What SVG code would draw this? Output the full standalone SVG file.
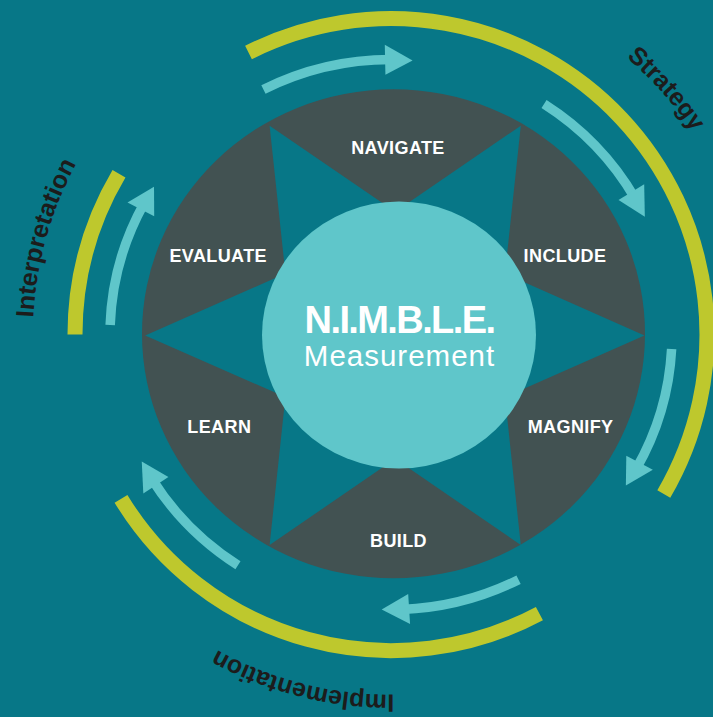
<svg xmlns="http://www.w3.org/2000/svg" width="713" height="717" viewBox="0 0 713 717">
<style>
  .bg { fill: #077787; }
  .seg { font-family: "Liberation Sans", Arial, sans-serif; font-weight: bold; font-size: 18px; fill: #ffffff; text-anchor: middle; letter-spacing: 0.4px; }
  .phase-arc { fill: none; stroke: #bec82d; stroke-width: 15; stroke-linecap: butt; }
  .flow { fill: none; stroke: #5fc6ca; stroke-width: 9.5; stroke-linecap: butt; }
  .head { fill: #5fc6ca; }
  .phase-label { font-family: "Liberation Sans", Arial, sans-serif; font-weight: bold; font-size: 25px; fill: #1c1c1c; letter-spacing: 0px; text-anchor: middle; }
  .title { font-family: "Liberation Sans", Arial, sans-serif; fill: #ffffff; text-anchor: middle; }
</style>
<defs>
  <path id="p-strategy" d="M 443.2 -25.6 A 363 363 0 0 1 753.8 323.5"/>
  <path id="p-interp" d="M 64.9 482.5 A 358 358 0 0 1 188.8 39.2"/>
  <path id="p-impl" d="M 547.7 658.7 A 360 360 0 0 1 99.0 545.2"/>
</defs>

<rect class="bg" x="0" y="0" width="713" height="717"/>

<g id="wheel">
  <ellipse cx="393.5" cy="333.8" rx="251.5" ry="244.5" fill="#425252"/>
  <polygon class="bg" points="269.6,125.7 395.2,211.8 520.8,125.7 505,273.55 644.5,335.5 505,397.05 520.8,545 395.2,458.8 269.6,545 285.4,397.05 145.2,335.5 285.4,273.55"/>
</g>

<g id="node-navigate"><text class="seg" x="398" y="154">NAVIGATE</text></g>
<g id="node-include"><text class="seg" x="565" y="262.3">INCLUDE</text></g>
<g id="node-magnify"><text class="seg" x="570.6" y="433.3">MAGNIFY</text></g>
<g id="node-build"><text class="seg" x="398.5" y="547.3">BUILD</text></g>
<g id="node-learn"><text class="seg" x="219.3" y="433.3">LEARN</text></g>
<g id="node-evaluate"><text class="seg" x="218.2" y="262.3">EVALUATE</text></g>

<g id="node-center">
  <ellipse cx="399" cy="335" rx="137" ry="133.5" fill="#5fc6ca"/>
  <text class="title" x="399.5" y="333.3" font-size="38" font-weight="bold" letter-spacing="-1.6">N.I.M.B.L.E.</text>
  <text class="title" x="399.5" y="366" font-size="29.5" letter-spacing="1">Measurement</text>
</g>

<g id="connectors">
  <path class="flow" d="M 263.43 89.57 A 281 275 0 0 1 392.47 59.60"/>
  <polygon class="head" points="384.80,44.66 412.56,60.41 385.43,74.66"/>
  <path class="flow" d="M 544.04 103.97 A 281 275 0 0 1 635.08 198.35"/>
  <polygon class="head" points="644.19,184.37 644.84,216.64 618.53,199.91"/>
  <path class="flow" d="M 671.62 348.99 A 281 275 0 0 1 636.05 469.18"/>
  <polygon class="head" points="652.84,469.85 625.86,485.58 626.30,455.86"/>
  <path class="flow" d="M 518.57 579.63 A 281 275 0 0 1 401.79 609.40"/>
  <polygon class="head" points="410.10,624.00 381.68,609.45 408.17,594.06"/>
  <path class="flow" d="M 237.96 565.23 A 281 275 0 0 1 151.92 479.10"/>
  <polygon class="head" points="143.32,493.39 141.75,461.58 168.42,476.97"/>
  <path class="flow" d="M 110.17 325.00 A 281 275 0 0 1 144.29 202.96"/>
  <polygon class="head" points="127.50,202.49 154.01,186.84 154.21,216.16"/>
</g>

<g id="phase-strategy">
  <path class="phase-arc" d="M 248.5 52.5 A 316 316 0 0 1 663.8 494.0"/>
  <text class="phase-label" font-size="24"><textPath href="#p-strategy" startOffset="50%">Strategy</textPath></text>
</g>
<g id="phase-implementation">
  <path class="phase-arc" d="M 539.4 613.6 A 316 316 0 0 1 121.0 498.8"/>
  <text class="phase-label" font-size="24" letter-spacing="0.3"><textPath href="#p-impl" startOffset="50%">Implementation</textPath></text>
</g>
<g id="phase-interpretation">
  <path class="phase-arc" d="M 75 334.6 A 316 316 0 0 1 119.0 173.8"/>
  <text class="phase-label"><textPath href="#p-interp" startOffset="50%">Interpretation</textPath></text>
</g>
</svg>
